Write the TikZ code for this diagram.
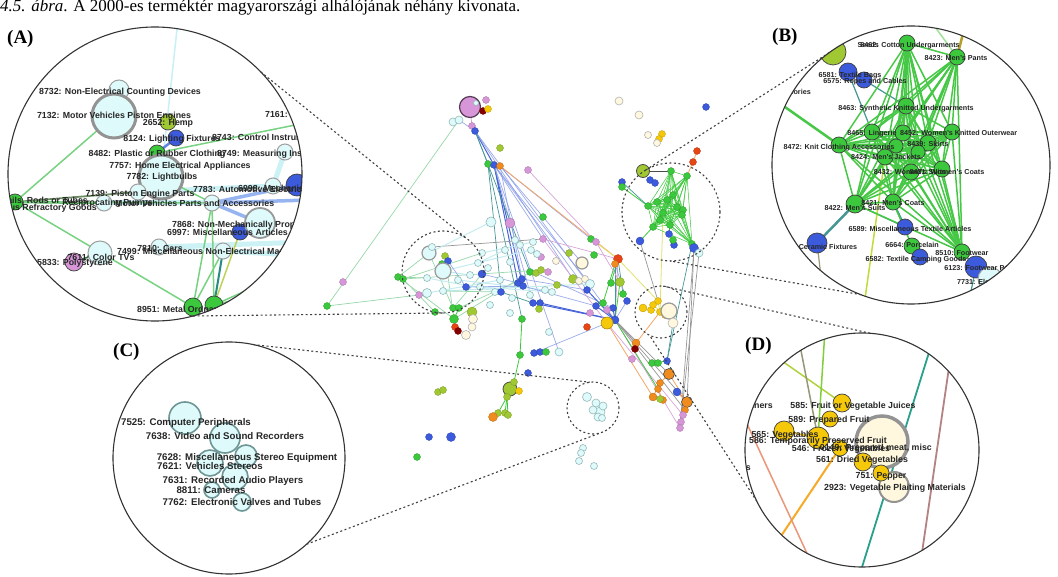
\documentclass[tikz,border=0pt]{standalone}
\usepackage{fontspec}
\setmainfont{Liberation Serif}
\setsansfont{Liberation Sans}
\definecolor{cG}{RGB}{60,200,60}
\definecolor{cB}{RGB}{60,90,220}
\definecolor{cL}{RGB}{160,200,50}
\definecolor{cP}{RGB}{215,150,215}
\definecolor{cY}{RGB}{245,200,10}
\definecolor{cO}{RGB}{240,140,30}
\definecolor{cR}{RGB}{230,70,20}
\definecolor{cDR}{RGB}{130,0,0}
\definecolor{cC}{RGB}{222,250,250}
\definecolor{cCB}{RGB}{150,185,185}
\definecolor{cCr}{RGB}{255,248,222}
\definecolor{eLG}{RGB}{150,215,170}
\definecolor{eLB}{RGB}{130,150,230}
\definecolor{eB}{RGB}{70,100,215}
\definecolor{eTL}{RGB}{70,150,150}
\definecolor{eOR}{RGB}{245,165,100}
\definecolor{eGR}{RGB}{150,150,150}
\definecolor{ePK}{RGB}{215,165,215}
\definecolor{eCY}{RGB}{195,235,240}
\definecolor{eYL}{RGB}{225,225,110}
\definecolor{xGrn}{RGB}{70,200,70}
\definecolor{xLime}{RGB}{190,220,60}
\definecolor{xOlv}{RGB}{180,160,40}
\definecolor{xLg}{RGB}{160,225,150}
\definecolor{xGry}{RGB}{160,150,120}
\definecolor{xBrn}{RGB}{180,130,130}
\definecolor{xDl}{RGB}{175,210,60}
\definecolor{xDo}{RGB}{150,150,120}
\definecolor{xDg}{RGB}{130,205,60}
\definecolor{xDy}{RGB}{240,200,40}
\definecolor{xDor}{RGB}{245,170,40}
\definecolor{xDs}{RGB}{235,150,120}
\definecolor{xDt}{RGB}{40,160,140}
\begin{document}
\begin{tikzpicture}[x=1pt,y=-1pt,
 nd/.style={circle,inner sep=0pt,outer sep=0pt},
 cg/.style={nd,fill=cG,draw=cG!75!black,line width=0.3pt},
 cb/.style={nd,fill=cB,draw=cB!75!black,line width=0.3pt},
 cl/.style={nd,fill=cL,draw=cL!75!black,line width=0.3pt},
 cp/.style={nd,fill=cP,draw=cP!75!black,line width=0.3pt},
 cy/.style={nd,fill=cY,draw=cY!75!black,line width=0.3pt},
 co/.style={nd,fill=cO,draw=cO!75!black,line width=0.3pt},
 cr/.style={nd,fill=cR,draw=cR!75!black,line width=0.3pt},
 cdr/.style={nd,fill=cDR,draw=cDR,line width=0.3pt},
 cc/.style={nd,fill=cC,draw=cCB,line width=0.6pt},
 ccr/.style={nd,fill=cCr,draw=black!30,line width=0.6pt},
 ccbig/.style={nd,fill=cC,draw=gray!80,line width=1.2pt},
 ccrbig/.style={nd,fill=cCr,draw=gray!80,line width=1.2pt},
 clbig/.style={nd,fill=cL,draw=black!70,line width=0.8pt},
 cobig/.style={nd,fill=cO,draw=black!70,line width=0.6pt},
 cybig/.style={nd,fill=cY,draw=cY!70!black,line width=0.6pt},
 pkbig/.style={nd,fill=cP,draw=black!60!cP,line width=1.2pt},
 elg/.style={draw=eLG,line width=0.7pt},
 elb/.style={draw=eLB,line width=0.7pt,draw opacity=0.8},
 eb/.style={draw=eB,line width=1pt},
 etl/.style={draw=eTL,line width=0.7pt},
 eor/.style={draw=eOR,line width=0.8pt},
 egr/.style={draw=eGR,line width=0.7pt},
 epk/.style={draw=ePK,line width=0.7pt},
 ecy/.style={draw=eCY,line width=1pt},
 egn/.style={draw=cG,line width=0.8pt},
 eyl/.style={draw=eYL,line width=0.8pt},
 edk/.style={draw=black!70,line width=0.8pt},
 mg/.style={nd,fill=cG,draw=black!75,line width=0.7pt},
 mb/.style={nd,fill=cB,draw=black!75,line width=0.7pt},
 ml/.style={nd,fill=cL,draw=black!75,line width=0.7pt},
 mp/.style={nd,fill=cP,draw=black!75,line width=0.7pt},
 my/.style={nd,fill=cY,draw=black!75,line width=0.7pt},
 mc/.style={nd,fill=cC,draw=gray!75,line width=1pt},
 mcm/.style={nd,fill=cC,draw=gray!80,line width=1.8pt},
 mcbig/.style={nd,fill=cC,draw=gray!85,line width=3pt},
 mcc/.style={nd,fill=cC,draw={rgb,255:red,110;green,150;blue,150},line width=1.6pt},
 mcr/.style={nd,fill=cCr,draw=gray!85,line width=2pt},
 mcrbig/.style={nd,fill=cCr,draw=gray!85,line width=3.5pt},
 agn/.style={draw={rgb,255:red,120;green,210;blue,130},line width=1.5pt},
 agn2/.style={draw={rgb,255:red,90;green,190;blue,100},line width=2.5pt},
 adk/.style={draw={rgb,255:red,110;green,140;blue,100},line width=1.8pt},
 ablu/.style={draw={rgb,255:red,100;green,130;blue,230},line width=2.5pt},
 alb/.style={draw={rgb,255:red,150;green,180;blue,240},line width=3.5pt},
 acy/.style={draw={rgb,255:red,200;green,240;blue,245},line width=1.5pt},
 acyw/.style={draw={rgb,255:red,205;green,242;blue,246},line width=5pt},
 atl/.style={draw={rgb,255:red,40;green,140;blue,130},line width=2pt},
 adg/.style={draw={rgb,255:red,40;green,110;blue,60},line width=1.5pt},
 ayl/.style={draw={rgb,255:red,190;green,210;blue,90},line width=1.5pt},
 bge/.style={draw=xGrn,line width=1.5pt},
 bgt/.style={draw=xGrn,line width=2.5pt},
 btl/.style={draw=eTL,line width=1.2pt},
 btlm/.style={draw=eTL,line width=2pt},
 btlw/.style={draw=eTL,line width=2.5pt},
 blime/.style={draw=xLime,line width=1.5pt},
 bolv/.style={draw=xOlv,line width=2.5pt},
 blg/.style={draw=xLg,line width=1.5pt},
 bgry/.style={draw=xGry,line width=1.2pt},
 bbrn/.style={draw=xBrn,line width=1.5pt},
 dlime/.style={draw=xDl,line width=1.5pt},
 dolg/.style={draw=xDo,line width=1.5pt},
 dgrn/.style={draw=xDg,line width=1.5pt},
 dyel/.style={draw=xDy,line width=2pt},
 dorg/.style={draw=xDor,line width=2pt},
 dsal/.style={draw=xDs,line width=1.5pt},
 dteal/.style={draw=xDt,line width=1.8pt},
 dbrn/.style={draw=xBrn,line width=1.8pt},
 lA/.style={font=\sffamily\bfseries\fontsize{8.8pt}{9pt}\selectfont,inner sep=0pt,text=black!85,anchor=mid},
 lB/.style={font=\sffamily\bfseries\fontsize{7.2pt}{8pt}\selectfont,inner sep=0pt,text=black!85,anchor=mid},
 lC/.style={font=\sffamily\bfseries\fontsize{9.7pt}{10pt}\selectfont,inner sep=0pt,text=black!85,anchor=mid},
 lD/.style={font=\sffamily\bfseries\fontsize{8.8pt}{9pt}\selectfont,inner sep=0pt,text=black!85,anchor=mid},
 tag/.style={font=\bfseries\fontsize{19pt}{20pt}\selectfont,inner sep=0pt,anchor=base west},
 bigc/.style={circle,draw=black!80,line width=1.1pt,inner sep=0pt,outer sep=0pt},
 dashc/.style={circle,draw=black!75,line width=1.1pt,dash pattern=on 2pt off 2.5pt,inner sep=0pt,outer sep=0pt},
 dcon/.style={draw=black!75,line width=1.1pt,dash pattern=on 2pt off 2.5pt}
]
\useasboundingbox (0,0) rectangle (1058,577);

% caption
\node[anchor=base west,inner sep=0pt,font=\fontsize{17pt}{18pt}\selectfont] (cap) at (0,11.5) {\textit{4.5. ábra}. A 2000-es terméktér magyarországi alhálójának néhány kivonata.};

% ---------------- central network: nodes
\def\Nodes{
n1/470/107/pkbig/20, n2/476/103/cc/4, n3/486/100/cp/6, n4/483/111/cdr/6, n5/488/109/cy/6,
n6/453/122/cc/7, n7/459/120/cc/7, n8/472/126/cp/6, n9/475/131/cb/6, n10/488/164/cg/6,
n11/494/165/cb/6, n12/500/166/co/6, n13/500/148/cl/6, n14/528/170/cp/6, n15/619/101/ccr/7,
n16/639/115/ccr/7, n17/706/107/cb/6, n18/648/135/ccr/6, n19/662/134/cy/6, n20/659/139/cy/6,
n21/657/143/ccr/6, n22/697/151/cr/6, n23/693/162/cr/6, n24/643/171/clbig/12, n25/622/182/cb/6,
n26/622/187/cg/6, n27/650/180/cb/6, n28/655/183/cb/6,
n29/671/171/cg/6, n30/687/176/cg/6, n31/648/206/cg/6, n32/657/202/cg/6, n33/667/200/cg/6,
n34/677/207/cg/6, n35/683/210/cg/6, n36/663/213/cg/6, n37/653/227/cg/6, n38/670/225/cg/6,
n39/682/215/cg/6, n40/673/195/cg/6, n41/660/220/cg/6, n42/692/244/cg/6, n43/640/241/cb/7,
n44/669/234/cb/6, n45/674/245/cb/6, n46/673/240/cg/6, n47/694/248/cb/8, n48/699/253/cc/7,
n49/429/253/ccbig/13, n50/432/247/cc/6, n51/445/256/cl/6, n52/442/264/cg/6, n53/448/261/cb/6,
n54/443/271/ccbig/15, n55/398/277/cg/6, n56/403/279/cg/6, n57/427/278/cc/6, n58/343/282/cp/6,
n59/327/306/cg/6, n60/419/295/cp/6, n61/427/293/cc/8, n62/443/291/cc/6, n63/482/253/cc/6,
n64/478/263/cc/6, n65/482/274/cb/7, n66/453/308/cg/6, n67/459/308/cg/6, n68/472/312/cl/9,
n69/473/319/ccr/8, n70/472/327/ccr/7, n71/466/335/ccr/8, n72/454/319/cg/8, n73/435/312/cg/6,
n74/455/327/cr/6, n75/458/331/cdr/6, n76/491/222/cc/9, n77/510/223/cp/9, n78/543/217/cg/6,
n116/470/275/cc/6, n117/488/268/cc/6, n118/500/280/cc/6, n119/510/262/cc/6, n120/520/245/cc/6,
n121/505/250/cc/6, n122/495/292/cc/6, n123/512/298/cc/6, n124/480/287/cc/6, n125/545/290/cc/6,
n126/552/292/cc/6, n127/490/305/cc/6, n128/515/240/cc/6, n129/530/295/cc/6, n130/458/280/cc/6,
n79/466/287/cb/6, n80/501/292/cb/6, n81/518/283/cb/6, n82/523/286/cb/6, n83/522/279/cb/6,
n84/530/272/cg/6, n85/536/273/cl/6, n86/541/270/cl/6, n87/548/272/cp/6, n88/543/239/cp/6,
n89/541/257/cp/6, n90/533/242/cc/6, n91/531/250/cc/6, n92/537/254/cc/6, n93/556/261/ccr/6,
n94/569/253/cl/6, n95/594/255/cg/6, n96/582/263/ccrbig/11, n97/573/279/cl/8, n98/579/281/ccr/6,
n99/585/279/ccr/6, n100/590/284/cc/8, n101/557/285/cl/6, n102/591/239/cg/6, n103/596/242/cp/6,
n104/533/303/cb/6, n105/540/303/cb/6, n106/539/309/cl/6, n107/510/313/cc/6, n108/522/319/cg/6,
n109/549/332/cc/6, n110/559/352/cc/7, n111/534/353/cb/6, n112/540/352/cb/6, n113/546/352/cg/6,
n114/520/355/cg/6, n115/528/373/cb/6,
n131/510/389/clbig/13, n132/514/382/cl/6, n133/507/397/cl/6, n134/519/391/cy/6, n135/505/413/cl/6,
n136/508/415/cl/6, n137/498/413/cl/6, n138/493/417/co/8, n139/438/392/cl/6, n140/443/390/cl/6,
n141/429/437/cb/6, n142/451/437/cb/8, n143/417/457/cg/6,
n144/587/397/cc/8, n145/596/403/cc/7, n146/600/412/cc/9, n147/593/410/cc/7, n148/598/417/cc/7,
n149/603/406/cc/7, n150/602/418/cc/6, n151/583/448/cc/6, n152/581/453/cc/6, n153/579/461/cc/6,
n154/594/466/cc/6,
n155/618/259/cr/8, n156/615/264/co/6, n157/620/282/cl/8, n158/611/283/cg/6, n159/623/294/cg/6,
n160/627/301/cb/6, n161/587/290/cb/6, n162/596/306/cb/6, n163/603/303/cg/6, n164/613/308/cb/6,
n165/615/320/cb/7, n166/590/313/cp/6, n167/607/310/cp/6, n168/607/323/cybig/11, n169/587/327/cr/6,
n170/643/308/cy/7, n171/651/310/cy/6, n172/658/301/cy/6, n173/653/305/cy/6, n174/660/312/cy/6,
n175/665/315/cy/6, n176/669/311/ccrbig/15, n177/673/323/ccr/9,
n178/636/343/co/7, n179/635/349/cdr/6, n180/632/359/cp/6, n181/652/363/cg/6, n182/658/363/cg/6,
n183/667/361/cb/6, n184/669/374/cobig/10, n185/660/383/co/6, n186/658/389/co/6, n187/653/397/co/7,
n188/663/400/co/6, n189/660/399/cl/6, n190/677/392/cb/7, n191/687/402/cobig/10, n192/685/410/co/6,
n193/683/415/cp/6, n194/681/422/cp/6, n195/680/428/cp/6}
\foreach \n/\x/\y/\s/\d in \Nodes \path (\x,\y) coordinate (\n);

% central edges
\foreach \a/\b/\s in {
n7/n59/elg, n59/n60/elg, n6/n7/ecy, n1/n8/epk, n8/n9/elb, n7/n9/elb, n9/n11/eb, n9/n10/etl, n10/n11/eb, n11/n12/eb,
n11/n81/eb, n11/n82/eb, n11/n104/elb, n10/n108/etl, n12/n83/elb, n10/n80/etl, n9/n84/etl, n11/n110/elb, n11/n88/elb,
n12/n102/elb, n12/n155/eor, n9/n165/elb, n11/n161/elb, n9/n97/elb, n11/n100/elb, n12/n96/elb,
n55/n49/elg, n55/n57/elg, n56/n63/elg, n56/n86/elg, n55/n72/elg, n72/n84/elg, n66/n49/elg, n66/n65/elg, n67/n83/elg,
n72/n51/elg, n50/n88/egr, n49/n76/ecy, n54/n91/ecy, n57/n80/ecy, n62/n100/ecy, n61/n118/ecy, n64/n121/ecy, n63/n90/ecy,
n54/n116/ecy, n130/n125/ecy, n124/n126/ecy, n65/n81/elb, n53/n79/elb, n79/n82/elb, n62/n80/elg, n73/n56/elg, n72/n67/egn,
n108/n114/egn, n114/n132/egn, n132/n131/egn, n131/n133/egn, n133/n135/egn, n133/n137/egn, n137/n138/egn, n133/n136/egn,
n139/n140/egn, n111/n168/elb, n104/n165/eb, n105/n165/eb, n82/n162/elb, n83/n161/elb, n85/n164/elb, n80/n104/etl,
n155/n158/egn, n155/n159/etl, n155/n165/epk, n156/n163/egn, n156/n160/elb, n157/n165/egn, n156/n165/etl, n161/n165/eb,
n162/n165/eb, n164/n165/eb, n160/n165/elb, n165/n191/egr, n165/n184/egr, n165/n195/epk, n168/n193/epk, n165/n186/egn,
n165/n192/egr, n168/n187/eor, n165/n178/egr, n178/n174/eor, n155/n172/eyl, n43/n172/egr, n47/n195/egr, n42/n183/etl,
n36/n174/eyl, n31/n26/egn, n25/n31/etl, n22/n23/eor, n23/n30/eor, n24/n29/edk, n88/n155/epk, n102/n155/eyl,
n103/n157/epk, n88/n168/epk, n14/n103/epk, n177/n183/etl, n181/n183/egn, n184/n185/eor, n185/n187/eor, n186/n188/eor,
n190/n191/eor, n184/n191/eor, n192/n193/epk, n193/n194/epk, n194/n195/epk, n47/n191/egr, n48/n195/egr, n170/n171/eyl,
n171/n176/eyl, n172/n174/eyl, n173/n175/eyl, n174/n176/eyl, n43/n37/egn, n44/n38/egn, n45/n46/egn, n47/n42/egn}
 \draw[\s] (\a) -- (\b);
\def\Clist{n29,n30,n31,n32,n33,n34,n35,n36,n37,n38,n39,n40,n41,n42}
\foreach \a [count=\i] in \Clist {\foreach \b [count=\j] in \Clist {\ifnum\j>\i \draw[draw=cG,line width=0.5pt] (\a)--(\b);\fi}}
\foreach \n/\x/\y/\s/\d in \Nodes \node[\s,minimum size=(\d+1)*1pt] (\n) at (\x,\y) {};

% small dashed circles
\node[dashc,minimum size=82pt] (sa) at (443,272) {};
\node[dashc,minimum size=98pt] (sb) at (671,212) {};
\node[dashc,minimum size=52pt] (sc) at (593,408) {};
\node[dashc,minimum size=52pt] (sd) at (661,312) {};

% ================= circle A
\fill[white] (155,174) circle (147pt);
\begin{scope}
\clip (155,174) circle (147pt);
\coordinate (aE1) at (310,122); \coordinate (aE2) at (310,262); \coordinate (aE3) at (310,282);
\coordinate (aE4) at (310,242); \coordinate (aE5) at (310,256); \coordinate (aE6) at (310,200);
\coordinate (aTop) at (178,20);
\def\ANodes{a8732/119/90/mc/20, a7132/114/116/mcbig/44, a2652/168/122/ml/16, a8124/176/138/mb/16,
 a8749/285/152/mc/16, a8482/157/153/mg/16, a7782/161/177/mcbig/44, a7139/138/192/mc/16, aL/15/202/mg/16,
 aP1/104/203/mc/16, a7843/212/203/mc/16, a6998/273/186/mc/16, aB1/297/185/mb/22, aB2/240/232/mb/16,
 a7868/260/223/mcm/30, a7810/159/247/mc/16, a7499/223/251/mc/16, a7611/100/253/mc/24, a5833/74/262/mp/18,
 a8951/193/307/mg/18, aG2/214/305/mg/18}
\foreach \n/\x/\y/\s/\d in \ANodes \path (\x,\y) coordinate (\n);
\foreach \a/\b/\s in {a7139/a6998/acyw, aP1/a7843/acyw, a7810/aE4/acyw, a7499/aE5/acyw, a8749/a6998/acyw,
 aTop/a7782/acy, aL/a7132/agn, aL/a8951/agn, aL/a7139/adk, aL/aP1/agn2, aL/a7843/agn, a8482/a8124/ablu,
 aE1/a8482/agn, a8951/a7843/agn, aG2/a7843/agn, aG2/a7499/atl, aG2/aE2/agn, aG2/aE3/agn, a8951/a7499/agn,
 a7843/aB1/alb, a7843/a7868/alb, aE6/a7843/alb, aB2/a7868/ablu, a7810/a7499/acy, a5833/a7611/adg,
 a7782/a7843/agn, aG2/aB2/ayl}
 \draw[\s] (\a) -- (\b);
\foreach \n/\x/\y/\s/\d in \ANodes \node[\s,minimum size=\d*1pt] (\n) at (\x,\y) {};
\node[lA] (tA1) at (120,92) {8732: Non-Electrical Counting Devices};
\node[lA] (tA2) at (114,116) {7132: Motor Vehicles Piston Engines};
\node[lA] (tA3) at (168,123) {2652: Hemp};
\node[lA] (tA4) at (172,139) {8124: Lighting Fixtures};
\node[lA,anchor=mid west] (tA5) at (212,138) {8743: Control Instruments};
\node[lA,anchor=mid west] (tA6) at (265,115) {7161:};
\node[lA] (tA7) at (157,154) {8482: Plastic or Rubber Clothing};
\node[lA,anchor=mid west] (tA8) at (217,154) {8749: Measuring Instruments};
\node[lA] (tA9) at (180,166) {7757: Home Electrical Appliances};
\node[lA] (tA10) at (162,177) {7782: Lightbulbs};
\node[lA] (tA11) at (140,194) {7139: Piston Engine Parts};
\node[lA,anchor=mid west] (tA12) at (193,190) {7783: Automotive Electrical Equipment};
\node[lA,anchor=mid west] (tA13) at (238,189) {6998: Mechanical};
\node[lA,anchor=mid east] (tA14) at (88,201) {Rails, Rods or Tubes};
\node[lA,anchor=mid east] (tA15) at (97,208) {ous Refractory Goods};
\node[lA,anchor=mid east] (tA16) at (153,203) {Reciprocating Pumps};
\node[lA,anchor=mid west] (tA17) at (115,204) {Motor Vehicles Parts and Accessories};
\node[lA,anchor=mid west] (tA18) at (172,225) {7868: Non-Mechanically Propelled Vehicles};
\node[lA,anchor=mid west] (tA19) at (167,233) {6997: Miscellaneous Articles of Base Metal};
\node[lA] (tA20) at (160,249) {7810: Cars};
\node[lA,anchor=mid west] (tA21) at (117,252) {7499: Miscellaneous Non-Electrical Machinery};
\node[lA] (tA22) at (101,258) {7611: Color TVs};
\node[lA] (tA23) at (75,263) {5833: Polystyrene};
\node[lA,anchor=mid west] (tA24) at (137,310) {8951: Metal Ordnance};
\end{scope}
\node[bigc,minimum size=294pt] (cA) at (155,174) {};

% ================= circle B
\fill[white] (911,165) circle (139pt);
\begin{scope}
\clip (911,165) circle (139pt);
\def\BNodes{b1/907/43/mg/16, b2/957/57/mg/16, b3/906/106/mg/16, b4/872/132/mg/16, b5/903/133/mg/16,
 b6/952/132/mg/16, b7/928/143/mg/16, b8/839/145/mg/16, b9/885/157/mg/16, b10/911/172/mg/16, b11/942/169/mg/16,
 b12/893/202/mg/16, b13/855/204/mg/18, b14/962/252/mg/16, b15/918/152/mg/14, b16/896/146/mg/14,
 bL/833/52/ml/26, b6581/848/72/mb/18, b6575/864/80/mb/16, b6589/905/227/mb/16, bCer/817/243/mb/20,
 b6664/912/246/mg/16, b6582/920/257/mb/16, b6123/976/267/mb/22, b7731/990/279/mc/24}
\foreach \n/\x/\y/\s/\d in \BNodes \path (\x,\y) coordinate (\n);
\coordinate (bE1) at (775,100); \coordinate (bE2) at (862,320); \coordinate (bE3) at (966,22);
\coordinate (bE4) at (930,20); \coordinate (bE5) at (825,310); \coordinate (bE6) at (965,320);
\coordinate (bE7) at (973,320);
\foreach \a/\b/\s in {b8/bE1/bgt, b6581/b4/btl, b6575/b3/btl, b13/bCer/btlw, b12/b6589/btlm, b13/b6589/btl,
 b9/bE2/blime, b2/bE3/bolv, b2/bE4/blg, bCer/bE5/bgry, b6123/bE6/btl, b7731/bE7/bbrn, b12/b6664/bge, b6123/b14/btl}
 \draw[\s] (\a) -- (\b);
\def\Blist{b1,b2,b3,b4,b5,b6,b7,b8,b9,b10,b11,b12,b13,b14,b15,b16}
\foreach \a [count=\i] in \Blist {\foreach \b [count=\j] in \Blist {\ifnum\j>\i \draw[bge] (\a)--(\b);\fi}}
\node[lB,anchor=mid east] (tB0) at (879,45) {Seeds};
\foreach \n/\x/\y/\s/\d in \BNodes \node[\s,minimum size=\d*1pt] (\n) at (\x,\y) {};
\node[lB] (tB1) at (910,45) {8462: Cotton Undergarments};
\node[lB] (tB2) at (956,58) {8423: Men's Pants};
\node[lB] (tB3) at (850,75) {6581: Textile Bags};
\node[lB] (tB4) at (865,81) {6575: Ropes and Cables};
\node[lB,anchor=mid east] (tB5) at (811,92) {Accessories};
\node[lB] (tB6) at (906,108) {8463: Synthetic Knitted Undergarments};
\node[lB] (tB7) at (872,133) {8465: Lingerie};
\node[lB,anchor=mid west] (tB8) at (900,133) {8452: Women's Knitted Outerwear};
\node[lB] (tB9) at (928,144) {8439: Skirts};
\node[lB] (tB10) at (839,147) {8472: Knit Clothing Accessories};
\node[lB] (tB11) at (886,157) {8424: Men's Jackets};
\node[lB] (tB12) at (910,172) {8432: Women's Suits};
\node[lB] (tB13) at (947,172) {8431: Women's Coats};
\node[lB] (tB14) at (893,203) {8421: Men's Coats};
\node[lB] (tB15) at (855,208) {8422: Men's Suits};
\node[lB] (tB16) at (910,229) {6589: Miscellaneous Textile Articles};
\node[lB] (tB17) at (828,247) {Ceramic Fixtures};
\node[lB] (tB18) at (912,245) {6664: Porcelain};
\node[lB] (tB19) at (962,253) {8510: Footwear};
\node[lB] (tB20) at (916,259) {6582: Textile Camping Goods};
\node[lB] (tB21) at (981,268) {6123: Footwear Parts};
\node[lB,anchor=mid west] (tB22) at (957,282) {7731: Electrical};
\end{scope}
\node[bigc,minimum size=278pt] (cB) at (911,165) {};

% ================= circle C
\fill[white] (229,458) circle (116pt);
\begin{scope}
\clip (229,458) circle (116pt);
\foreach \n/\x/\y/\d in {c1/185/418/32, c2/225/438/30, c3/210/463/26, c4/246/456/22, c5/235/477/26, c6/212/490/16, c7/242/502/18}
 \node[mcc,minimum size=\d*1pt] (\n) at (\x,\y) {};
\node[lC] (tC1) at (186,423) {7525: Computer Peripherals};
\node[lC] (tC2) at (225,437) {7638: Video and Sound Recorders};
\node[lC] (tC3) at (247,458) {7628: Miscellaneous Stereo Equipment};
\node[lC] (tC4) at (210,467) {7621: Vehicles Stereos};
\node[lC] (tC5) at (233,481) {7631: Recorded Audio Players};
\node[lC] (tC6) at (211,491) {8811: Cameras};
\node[lC] (tC7) at (242,503) {7762: Electronic Valves and Tubes};
\end{scope}
\node[bigc,minimum size=232pt] (cC) at (229,458) {};

% ================= circle D
\fill[white] (862,450) circle (117pt);
\begin{scope}
\clip (862,450) circle (117pt);
\foreach \n/\x/\y in {d585/842/403, d589/830/419, d565/784/431, d586/818/438, d546/840/448}
 \path (\x,\y) coordinate (\n);
\coordinate (dE1) at (752,340); \coordinate (dE2) at (797,330); \coordinate (dE3) at (825,330);
\coordinate (dE4) at (765,560); \coordinate (dE5) at (736,400); \coordinate (dE6) at (817,575);
\coordinate (dE7) at (936,330); \coordinate (dE8) at (858,580); \coordinate (dE9) at (953,340);
\coordinate (dE10) at (918,580);
\foreach \a/\b/\s in {dE1/d585/dlime, dE2/d586/dolg, dE3/d586/dgrn, d565/d586/dyel, dE4/d546/dorg,
 dE5/dE6/dsal, dE7/dE8/dteal, dE9/dE10/dbrn}
 \draw[\s] (\a) -- (\b);
\node[mcrbig,minimum size=52pt] (dBig) at (882,442) {};
\node[mcr,minimum size=30pt] (d2923) at (894,487) {};
\foreach \n/\x/\y/\d in {d585/842/403/18, d589/830/419/16, d565/784/431/20, d586/818/438/22, d546/840/448/16, d561/863/462/18, d751/881/473/16}
 \node[my,minimum size=\d*1pt] (\n) at (\x,\y) {};
\node[lD,anchor=mid east] (tD0) at (773,406) {Containers};
\node[lD] (tD1) at (853,406) {585: Fruit or Vegetable Juices};
\node[lD] (tD2) at (829,420) {589: Prepared Fruit};
\node[lD] (tD3) at (785,435) {565: Vegetables};
\node[lD] (tD4) at (818,441) {586: Temporarily Preserved Fruit};
\node[lD] (tD5) at (841,449) {546: Frozen Vegetables};
\node[lD,anchor=mid east] (tD6) at (932,448) {0149: Prepared meat, misc};
\node[lD] (tD7) at (862,460) {561: Dried Vegetables};
\node[lD] (tD8) at (881,476) {751: Pepper};
\node[lD] (tD9) at (895,488) {2923: Vegetable Plaiting Materials};
\node[lD,anchor=mid east] (tD10) at (751,468) {Tomatoes};
\end{scope}
\node[bigc,minimum size=234pt] (cD) at (862,450) {};

% dashed connectors
\draw[dcon] (cA.44) -- (sa.54);
\draw[dcon] (cA.-75) -- (sa.-87);
\draw[dcon] (cB.126) -- (sb.123);
\draw[dcon] (cB.-111) -- (sb.-91);
\draw[dcon] (cC.78) -- (sc.97);
\draw[dcon] (cC.-48) -- (sc.-74);
\draw[dcon] (cD.86) -- (sd.85);
\draw[dcon] (cD.-154) -- (sd.-116);

% panel tags
\node[tag] (tagA) at (7,44) {(A)};
\node[tag] (tagB) at (772,42) {(B)};
\node[tag] (tagC) at (113,357) {(C)};
\node[tag] (tagD) at (745,351) {(D)};
\end{tikzpicture}
\end{document}
